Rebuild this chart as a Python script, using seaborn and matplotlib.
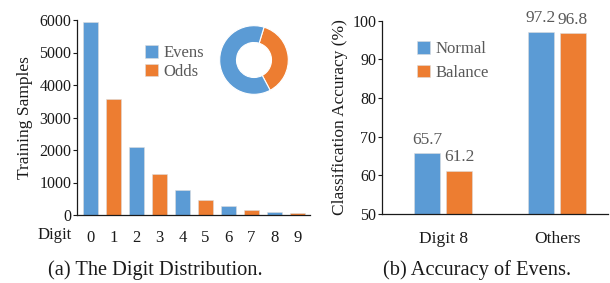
import matplotlib
matplotlib.use("Agg")
import matplotlib.pyplot as plt
import seaborn as sns
import pandas as pd
import numpy as np

sns.set_theme(style="white")
plt.rcParams['font.family'] = ['Liberation Serif', 'DejaVu Serif']

# ---- data ----
digits = ["0", "1", "2", "3", "4", "5", "6", "7", "8", "9"]
samples = [5930, 3560, 2100, 1270, 760, 450, 270, 155, 90, 50]
parity = ["Evens", "Odds", "Evens", "Odds", "Evens", "Odds", "Evens", "Odds", "Evens", "Odds"]

acc_groups = ["Digit 8", "Digit 8", "Others", "Others"]
acc_methods = ["Normal", "Balance", "Normal", "Balance"]
acc_values = [65.7, 61.2, 97.2, 96.8]

BLUE = "#5B9BD5"
ORANGE = "#ED7D31"
GREY = "#595959"
DARK = "#1a1a1a"

W, H = 610, 283
fig = plt.figure(figsize=(W / 100, H / 100), dpi=100)

def px_axes(l, t, r, b):
    return fig.add_axes([l / W, 1 - b / H, (r - l) / W, (b - t) / H])

# ---- left panel ----
ax1 = px_axes(77, 20, 310, 215)
df1 = pd.DataFrame({"digit": digits, "samples": samples, "parity": parity})
sns.barplot(data=df1, x="digit", y="samples", hue="parity", dodge=False,
            palette={"Evens": BLUE, "Odds": ORANGE}, width=0.65, ax=ax1,
            saturation=1, edgecolor="#dddddd", linewidth=0.4)
ax1.set_xlim(-0.6, 9.55)
ax1.set_ylim(0, 6000)
ax1.set_yticks([0, 1000, 2000, 3000, 4000, 5000, 6000])
ax1.set_xlabel("")
ax1.set_ylabel("Training Samples", fontsize=12.5, color=DARK, labelpad=5)
for s in ["top", "right"]:
    ax1.spines[s].set_visible(False)
for s in ["left", "bottom"]:
    ax1.spines[s].set_color(DARK)
    ax1.spines[s].set_linewidth(0.9)
ax1.tick_params(axis="y", left=True, length=3, width=0.8, labelsize=11.5, pad=1, colors=DARK)
ax1.tick_params(axis="x", bottom=False, labelsize=12, pad=5, colors=DARK)
leg1 = ax1.legend(loc="upper left", bbox_to_anchor=((145 - 77) / 233, 1 - (45 - 20) / 195),
                  frameon=False, fontsize=12, handlelength=0.8, handleheight=0.8,
                  handletextpad=0.3, labelspacing=0.15, borderaxespad=0, borderpad=0)
for t in leg1.get_texts():
    t.set_color(GREY)
fig.text(55 / W, 1 - 235 / H, "Digit", fontsize=12, ha="center", va="center", color=DARK)

# donut
axp = px_axes(219, 25, 289, 95)
ev = sum(v for v, p in zip(samples, parity) if p == "Evens")
od = sum(v for v, p in zip(samples, parity) if p == "Odds")
axp.pie([od, ev], colors=[ORANGE, BLUE], startangle=73, counterclock=False,
        wedgeprops=dict(width=0.49, edgecolor="white", linewidth=0.8))
axp.set_aspect("equal")
axp.set_xlim(-1.02, 1.02)
axp.set_ylim(-1.02, 1.02)

fig.text(155 / W, 1 - 270 / H, "(a) The Digit Distribution.", fontsize=14.7,
         ha="center", va="center", color=DARK)

# ---- right panel ----
ax2 = px_axes(382, 20.7, 608, 214)
df2 = pd.DataFrame({"group": acc_groups, "method": acc_methods, "acc": acc_values})
sns.barplot(data=df2, x="group", y="acc", hue="method",
            palette={"Normal": BLUE, "Balance": ORANGE}, width=0.56, gap=0.2,
            saturation=1, ax=ax2, edgecolor="#dddddd", linewidth=0.4)
ax2.set_xlim(-0.535, 1.447)
ax2.set_ylim(50, 100)
ax2.set_yticks([50, 60, 70, 80, 90, 100])
ax2.set_xlabel("")
ax2.set_ylabel("Classification Accuracy (%)", fontsize=12.5, color=DARK, labelpad=3)
for s in ["top", "right"]:
    ax2.spines[s].set_visible(False)
for s in ["left", "bottom"]:
    ax2.spines[s].set_color(DARK)
    ax2.spines[s].set_linewidth(0.9)
ax2.tick_params(axis="y", left=True, length=3, width=0.8, labelsize=11.5, pad=1, colors=DARK)
ax2.tick_params(axis="x", bottom=False, labelsize=12.5, pad=6, colors=DARK)
for cont in ax2.containers:
    ax2.bar_label(cont, fmt="%.1f", fontsize=12.5, color=GREY, padding=4)
leg2 = ax2.legend(loc="upper left", bbox_to_anchor=((417 - 382) / 226, 1 - (41 - 20.7) / 193.3),
                  frameon=False, fontsize=12, handlelength=0.8, handleheight=0.8,
                  handletextpad=0.3, labelspacing=0.45, borderaxespad=0, borderpad=0)
for t in leg2.get_texts():
    t.set_color(GREY)

fig.text(477 / W, 1 - 270 / H, "(b) Accuracy of Evens.", fontsize=14.7,
         ha="center", va="center", color=DARK)

fig.savefig("out.png", dpi=100)
